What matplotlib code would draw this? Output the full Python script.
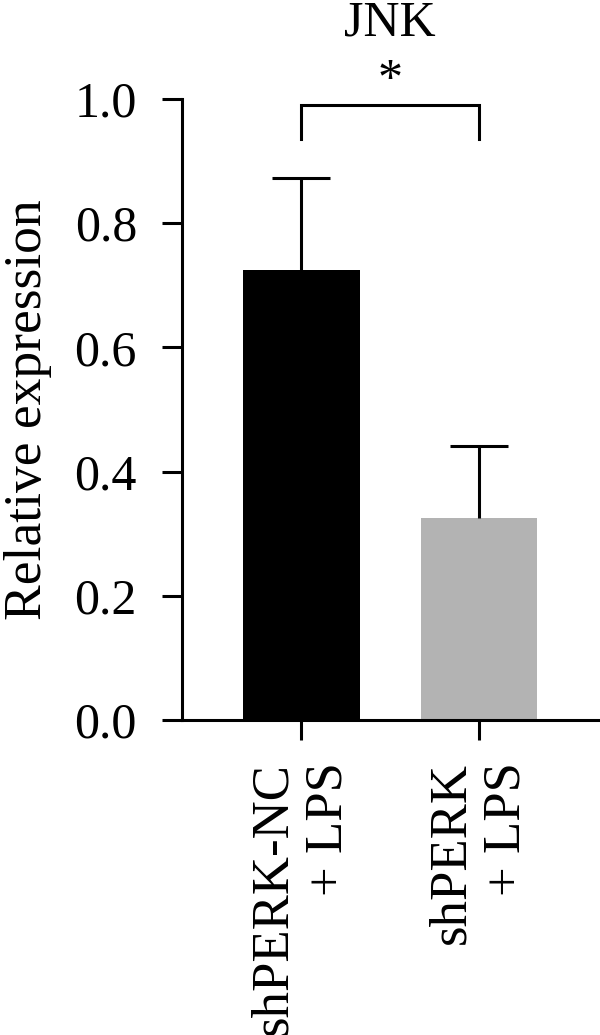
import matplotlib
matplotlib.use("Agg")
import matplotlib.pyplot as plt

# data
groups = ["shPERK-NC\n+ LPS", "shPERK\n+ LPS"]
means = [0.725, 0.325]
errors = [0.148, 0.116]
bar_colors = ["#000000", "#b3b3b3"]
y_ticks = [0.0, 0.2, 0.4, 0.6, 0.8, 1.0]
title = "JNK"
ylabel = "Relative expression"
sig_mark = "*"

plt.rcParams["font.family"] = "serif"
plt.rcParams["font.serif"] = ["Liberation Serif", "DejaVu Serif"]
FS = 36
LW = 2.2

fig = plt.figure(figsize=(6, 10.35), dpi=100)
W, H = 600, 1035
ax = fig.add_axes([182 / W, 1 - 720 / H, (600 - 182) / W, (720 - 99) / H])

x = list(range(len(groups)))
ax.bar(x, means, width=0.657, color=bar_colors, zorder=2)
eb = ax.errorbar(x, means, yerr=[[0] * len(errors), errors], fmt="none",
                 ecolor="black", elinewidth=LW, capsize=21, capthick=LW, zorder=3)
eb[1][0].set_visible(False)  # no cap at the bar top

ax.set_xlim(-0.669, 1.68)
ax.set_ylim(0, 1.0)
ax.set_yticks(y_ticks)
ax.set_yticklabels([f"{v:.1f}" for v in y_ticks], fontsize=FS)
ax.set_xticks(x)
ax.set_xticklabels(groups, rotation=90, fontsize=38, ha="center", va="top",
                   multialignment="right")

for side in ["top", "right"]:
    ax.spines[side].set_visible(False)
for side in ["left", "bottom"]:
    ax.spines[side].set_linewidth(LW)
ax.tick_params(axis="both", length=14.4, width=LW, direction="out")
ax.tick_params(axis="y", pad=18)
ax.tick_params(axis="x", pad=16)

# significance bracket
ax.plot([0, 0, 1, 1], [0.936, 0.99, 0.99, 0.936], color="black", lw=LW,
        clip_on=False, solid_joinstyle="miter")
ax.text(0.5, 1.03, sig_mark, fontsize=FS, ha="center", va="center",
        transform=ax.transData, clip_on=False)

fig.text(390 / W, 1 - 35 / H, title, fontsize=FS, ha="center", va="baseline")
fig.text(28 / W, 1 - 410 / H, ylabel, fontsize=38.5, rotation=90,
         ha="center", va="center")

fig.savefig("out.png", dpi=100)
